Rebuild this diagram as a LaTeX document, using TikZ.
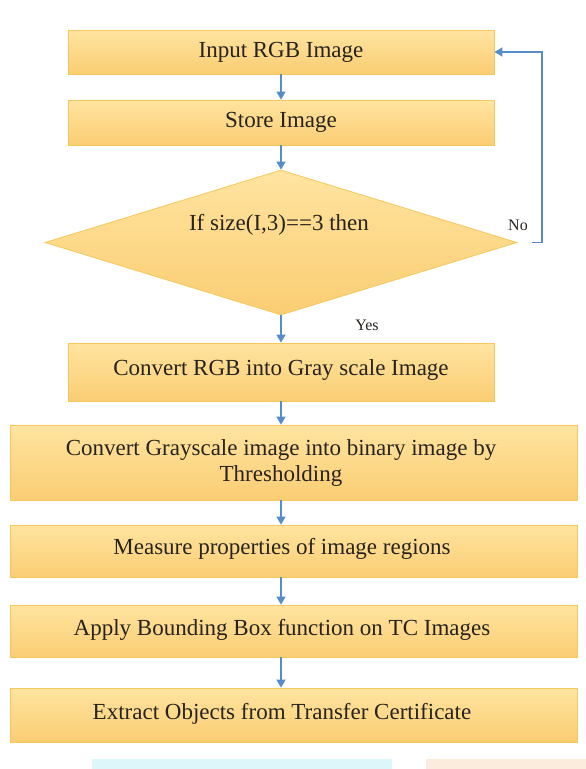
\documentclass[tikz,border=0pt]{standalone}
\usepackage{fontspec}
\IfFontExistsTF{LiberationSerif-Regular.ttf}{%
  \setmainfont{LiberationSerif}[Extension=.ttf,UprightFont=*-Regular,BoldFont=*-Bold,ItalicFont=*-Italic,BoldItalicFont=*-BoldItalic]}{%
  \setmainfont{Liberation Serif}}
\usetikzlibrary{shapes.geometric,arrows.meta}
\definecolor{boxtop}{RGB}{255,228,160}
\definecolor{boxbot}{RGB}{250,205,115}
\definecolor{boxborder}{RGB}{245,200,90}
\definecolor{arrowblue}{RGB}{86,140,200}
\definecolor{txt}{RGB}{40,35,30}
\definecolor{cyanfrag}{RGB}{220,246,250}
\definecolor{peachfrag}{RGB}{252,236,222}
\tikzset{
  boxshape/.style={draw=boxborder, line width=0.8pt, top color=boxtop, bottom color=boxbot, inner sep=0pt},
  decision/.style={shape=diamond, draw=boxborder, line width=0.8pt, top color=boxtop,
    bottom color=boxbot, inner sep=0pt},
  flow/.style={draw=arrowblue, line width=1.5pt, -{Triangle[width=9pt,length=8pt]}},
  lbl/.style={text=txt, inner sep=0pt, align=center, font=\fontsize{23}{28}\selectfont},
  small/.style={text=txt, inner sep=0pt, font=\fontsize{16}{18}\selectfont}
}
\begin{document}
\begin{tikzpicture}[x=1pt,y=-1pt]
\useasboundingbox (0,0) rectangle (586,769);
\fill[white] (0,0) rectangle (586,769);
% fragments of neighbouring figure at the bottom edge
\fill[cyanfrag] (92,759) rectangle (392,769);
\fill[peachfrag] (426,759) rectangle (586,769);

\node[boxshape, minimum width=426pt, minimum height=44pt] (b1) at (281,52) {};
\node[lbl] (b1t) at (281,52) {Input RGB Image};
\node[boxshape, minimum width=426pt, minimum height=45pt] (b2) at (281,122.5) {};
\node[lbl] (b2t) at (281,122.5) {Store Image};
\node[decision, minimum width=472pt, minimum height=145pt] (d) at (281,242.5) {};
\node[lbl] (dt) at (279,225) {If size(I,3)==3 then};
\node[boxshape, minimum width=426pt, minimum height=58pt] (b3) at (281,372) {};
\node[lbl] (b3t) at (281,370) {Convert RGB into Gray scale Image};
\node[boxshape, minimum width=567pt, minimum height=75pt] (b4) at (293.5,462.5) {};
\node[lbl] (b4t) at (281,462.5) {Convert Grayscale image into binary image by\\[-2pt]Thresholding};
\node[boxshape, minimum width=567pt, minimum height=52pt] (b5) at (293.5,551) {};
\node[lbl] (b5t) at (282,549) {Measure properties of image regions};
\node[boxshape, minimum width=567pt, minimum height=52pt] (b6) at (293.5,631) {};
\node[lbl] (b6t) at (282,630) {Apply Bounding Box function on TC Images};
\node[boxshape, minimum width=567pt, minimum height=54pt] (b7) at (293.5,715) {};
\node[lbl] (b7t) at (282,714) {Extract Objects from Transfer Certificate};

\node[small] (no) at (518,225) {No};
\node[small] (yes) at (367,325) {Yes};

\draw[flow] (b1.south) -- (b2.north);
\draw[flow] (b2.south) -- (d.north);
\draw[flow] (d.south) -- (b3.north);
\draw[flow] (b3.south) -- (b3.south |- b4.north);
\draw[flow] (b3.south |- b4.south) -- (b3.south |- b5.north);
\draw[flow] (b3.south |- b5.south) -- (b3.south |- b6.north);
\draw[flow] (b3.south |- b6.south) -- (b3.south |- b7.north);
\coordinate (fb) at (532,242.5);
\draw[flow] (fb) -- (542,242.5) |- (b1.east);
\end{tikzpicture}
\end{document}
